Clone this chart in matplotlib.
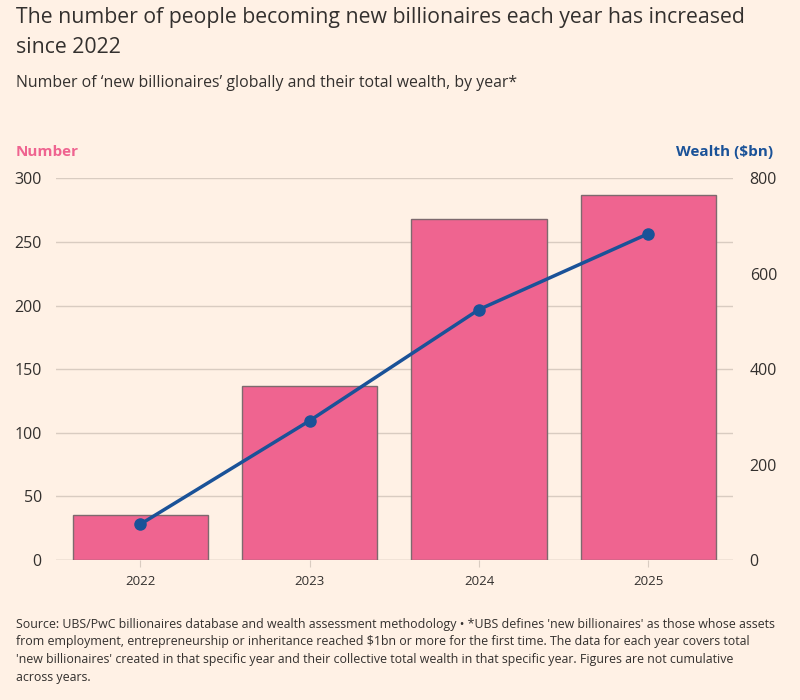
import matplotlib
matplotlib.use("Agg")
import matplotlib.pyplot as plt

years = ["2022", "2023", "2024", "2025"]
number = [35, 137, 268, 287]
wealth = [75, 292, 525, 684]
left_ticks = [0, 50, 100, 150, 200, 250, 300]
right_ticks = [0, 200, 400, 600, 800]

BG = "#FFF1E5"
PINK = "#EF6490"
BLUE = "#1A5298"
TXT = "#33302E"
GRID = "#D9CCC1"

plt.rcParams["font.family"] = ["Open Sans", "DejaVu Sans"]

fig = plt.figure(figsize=(8, 7), dpi=100, facecolor=BG)
ax = fig.add_axes([55.7/800, 1-560/700, (733-55.7)/800, (560-178.3)/700])
ax.set_facecolor(BG)
x = list(range(len(years)))
ax.bar(x, number, width=0.8, color=PINK, edgecolor="#7D6A6E", linewidth=1.0, zorder=2)
ax.set_xlim(-0.5, 3.5)
ax.set_ylim(0, 300)
ax.set_yticks(left_ticks)
ax.set_yticklabels([str(t) for t in left_ticks], fontsize=11.5, color=TXT)
ax.set_xticks(x)
ax.set_xticklabels(years, fontsize=9.5, color=TXT)
ax.tick_params(axis="y", length=0, pad=10)
ax.tick_params(axis="x", length=5, color=GRID, pad=6)
ax.grid(axis="y", color=GRID, linewidth=1, zorder=0)
for s in ax.spines.values():
    s.set_visible(False)
ax.axhline(0, color=GRID, linewidth=1, zorder=1)

ax2 = ax.twinx()
ax2.plot(x, wealth, color=BLUE, linewidth=2.5, marker="o", markersize=8, zorder=5)
ax2.set_ylim(0, 800)
ax2.set_yticks(right_ticks)
ax2.set_yticklabels([str(t) for t in right_ticks], fontsize=11.5, color=TXT)
ax2.tick_params(axis="y", length=0, pad=12)
for s in ax2.spines.values():
    s.set_visible(False)

fig.text(16/800, 1-7/700, "The number of people becoming new billionaires each year has increased\nsince 2022",
         fontsize=15.3, color=TXT, va="top", ha="left", linespacing=1.55)
fig.text(16/800, 1-83/700, "Number of \u2018new billionaires\u2019 globally and their total wealth, by year*",
         fontsize=11.4, color=TXT, va="center", ha="left")
fig.text(16/800, 1-152/700, "Number", fontsize=11, color=PINK, fontweight="bold", va="center", ha="left")
fig.text(773/800, 1-152/700, "Wealth ($bn)", fontsize=11, color=BLUE, fontweight="bold", va="center", ha="right")

footer = ("Source: UBS/PwC billionaires database and wealth assessment methodology \u2022 *UBS defines 'new billionaires' as those whose assets\n"
          "from employment, entrepreneurship or inheritance reached $1bn or more for the first time. The data for each year covers total\n"
          "'new billionaires' created in that specific year and their collective total wealth in that specific year. Figures are not cumulative\n"
          "across years.")
fig.text(16/800, 1-618/700, footer, fontsize=8.9, color=TXT, va="top", ha="left", linespacing=1.45)

fig.savefig("out.png", dpi=100, facecolor=BG)
